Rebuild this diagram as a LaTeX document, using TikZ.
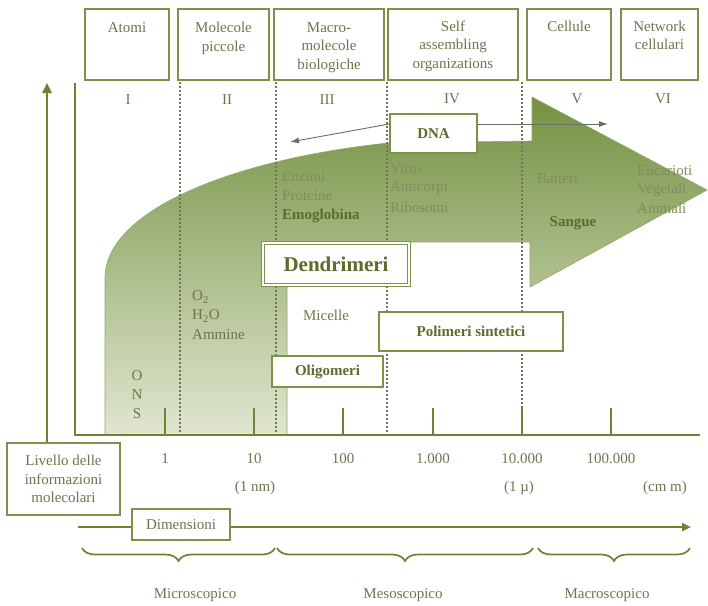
\documentclass[tikz,border=0pt]{standalone}
\usepackage{fontspec}
\setmainfont{Liberation Serif}
\usetikzlibrary{arrows.meta,decorations.pathreplacing,calc}
\definecolor{boxc}{RGB}{125,145,75}
\definecolor{axisc}{RGB}{108,132,52}
\definecolor{txtc}{RGB}{108,118,78}
\definecolor{boldc}{RGB}{92,108,42}
\definecolor{inc}{RGB}{128,140,92}
\definecolor{dotc}{RGB}{112,118,88}
\definecolor{dnac}{RGB}{105,112,92}
\definecolor{gtop}{RGB}{116,146,66}
\definecolor{gbot}{RGB}{224,230,207}
\newcommand\fs{\fontsize{15}{18.5}\selectfont}
\begin{document}
\begin{tikzpicture}[x=1pt,y=-1pt,
  every node/.style={font=\fs, text=txtc, inner sep=0pt},
  hbox/.style={draw=boxc, line width=1.7pt, fill=white, minimum height=71, anchor=center},
  hdr/.style={anchor=north, align=center},
  roman/.style={anchor=center},
  inlbl/.style={anchor=west, align=left, text=inc},
  boldlbl/.style={font=\fs\bfseries, text=boldc},
  wbox/.style={draw=boxc, line width=1.5pt, fill=white},
  dotline/.style={draw=dotc, line width=2pt, dash pattern=on 2pt off 2pt},
  tick/.style={draw=axisc, line width=2pt},
  axis/.style={draw=axisc, line width=2.6pt},
  dnaarr/.style={draw=dnac, line width=0.9pt, -{Latex[length=9pt,width=6pt]}},
  brc/.style={draw=axisc, line width=1.7pt, decorate, decoration={brace, amplitude=13pt}}
]
\useasboundingbox (0,0) rectangle (708,605);

% big green arrow
\path[top color=gtop, bottom color=gbot, draw=gtop!80!white, line width=0.6pt]
  (105,435) -- (105,278) .. controls (105,212) and (228,160) .. (388,143)
  -- (532,141) -- (532,97) -- (707,190) -- (530,287) -- (530,242)
  -- (287,242) -- (287,435) -- cycle;

% header boxes
\node[hbox, minimum width=84] (b1) at (127,44.5) {};
\node[hbox, minimum width=91] (b2) at (223.5,44.5) {};
\node[hbox, minimum width=110] (b3) at (329,44.5) {};
\node[hbox, minimum width=130] (b4) at (453,44.5) {};
\node[hbox, minimum width=84] (b5) at (569,44.5) {};
\node[hbox, minimum width=77] (b6) at (659.5,44.5) {};
\node[hdr] (t1) at (127,22) {Atomi};
\node[hdr] (t2) at (223.5,22) {Molecole\\piccole};
\node[hdr] (t3) at (329,22) {Macro-\\molecole\\biologiche};
\node[hdr] (t4) at (453,20.5) {Self\\assembling\\organizations};
\node[hdr] (t5) at (569,20.5) {Cellule};
\node[hdr] (t6) at (659.5,20.5) {Network\\cellulari};

% roman numerals
\node[roman] (r1) at (128,100) {I};
\node[roman] (r2) at (227,100) {II};
\node[roman] (r3) at (327,100) {III};
\node[roman] (r4) at (452,99) {IV};
\node[roman] (r5) at (577,99) {V};
\node[roman] (r6) at (663,99) {VI};

% dotted separators
\coordinate (d1t) at (180,82); \coordinate (d1b) at (180,435);
\coordinate (d2t) at (276,82); \coordinate (d2b) at (276,435);
\coordinate (d3t) at (387,82); \coordinate (d3b) at (387,435);
\coordinate (d4t) at (522,82); \coordinate (d4b) at (522,435);
\draw[dotline] (d1t) -- (d1b);
\draw[dotline] (d2t) -- (d2b);
\draw[dotline] (d3t) -- (d3b);
\draw[dotline] (d4t) -- (d4b);

% axes
\coordinate (ytop) at (75,83);
\coordinate (org) at (75,435);
\coordinate (xend) at (700,435);
\draw[axis] (ytop) -- (org) -- (xend);

% ticks and labels
\foreach \x/\lab/\nm in {165/1/k1,254/10/k2,343/100/k3,433/1.000/k4,522/10.000/k5,611/100.000/k6}{
  \coordinate (\nm t) at (\x,408);
  \coordinate (\nm b) at (\x,435);
  \draw[tick] (\nm t) -- (\nm b);
  \node (\nm) at (\x,459) {\lab};
}
\node (u1) at (255,488) {(1 nm)};
\node (u2) at (519,488) {(1 µ)};
\node (u3) at (665,488) {(cm m)};

% DNA box and arrows
\node[wbox, minimum width=87, minimum height=39, boldlbl] (dna) at (433.5,133.5) {DNA};
\coordinate (dnaL) at (290,142);
\coordinate (dnaR) at (608,124);
\draw[dnaarr] ([yshift=9.5pt]dna.west) -- (dnaL);
\draw[dnaarr] ([yshift=9.5pt]dna.east) -- (dnaR);

% labels inside arrow
\node[inlbl] (enz) at (282,177) {Enzimi};
\node[inlbl] (pro) at (282,196) {Proteine};
\node[inlbl, boldlbl] (emo) at (282,216) {Emoglobina};
\node[inlbl] (vir) at (390,169) {Virus};
\node[inlbl] (ant) at (390,188) {Anticorpi};
\node[inlbl] (rib) at (390,207) {Ribosomi};
\node[inlbl] (bat) at (537,179) {Batteri};
\node[boldlbl] (san) at (573,223) {Sangue};
\node[inlbl] (euc) at (637,171) {Eucarioti};
\node[inlbl] (veg) at (637,190) {Vegetali};
\node[inlbl] (ani) at (637,208) {Animali};

% Dendrimeri
\node[draw=boxc, line width=1.2pt, double=white, double distance=2pt, fill=white,
      minimum width=146, minimum height=42, font=\fontsize{21}{24}\selectfont\bfseries, text=boldc]
      (den) at (336,264) {Dendrimeri};

% other labels
\node[anchor=west] (o2) at (192,297) {O\textsubscript{2}};
\node[anchor=west] (h2o) at (192,316) {H\textsubscript{2}O};
\node[anchor=west] (amm) at (192,335) {Ammine};
\node (mic) at (326,315) {Micelle};
\node (sO) at (137,376) {O};
\node (sN) at (137,395) {N};
\node (sS) at (137,414) {S};

\node[wbox, minimum width=184, minimum height=39, boldlbl] (pol) at (471,331.5) {Polimeri sintetici};
\node[wbox, minimum width=111, minimum height=31, boldlbl] (oli) at (327.5,371.5) {Oligomeri};

% livello box and vertical arrow
\node[draw=boxc, line width=1.3pt, fill=white, minimum width=113, minimum height=72, align=center]
      (liv) at (63.5,479) {Livello delle\\informazioni\\molecolari};
\coordinate (lvtop) at (47,83);
\draw[draw=axisc, line width=2.4pt, -{Triangle[length=10pt,width=9pt]}] (liv.north -| lvtop) -- (lvtop);

% dimensioni arrow
\coordinate (dimS) at (78,527);
\coordinate (dimE) at (691,527);
\draw[draw=axisc, line width=2.6pt, -{Triangle[length=9pt,width=8pt]}] (dimS) -- (dimE);
\node[draw=boxc, line width=1.2pt, fill=white, minimum width=98, minimum height=31] (dim) at (181,524.5) {Dimensioni};

% braces
\coordinate (br1a) at (82,548); \coordinate (br1b) at (275,548);
\coordinate (br2a) at (277,548); \coordinate (br2b) at (533,548);
\coordinate (br3a) at (538,548); \coordinate (br3b) at (690,548);
\draw[brc] (br1b) -- (br1a);
\draw[brc] (br2b) -- (br2a);
\draw[brc] (br3b) -- (br3a);
\node (mic1) at (195,595) {Microscopico};
\node (mes1) at (403,595) {Mesoscopico};
\node (mac1) at (607,595) {Macroscopico};
\end{tikzpicture}
\end{document}
